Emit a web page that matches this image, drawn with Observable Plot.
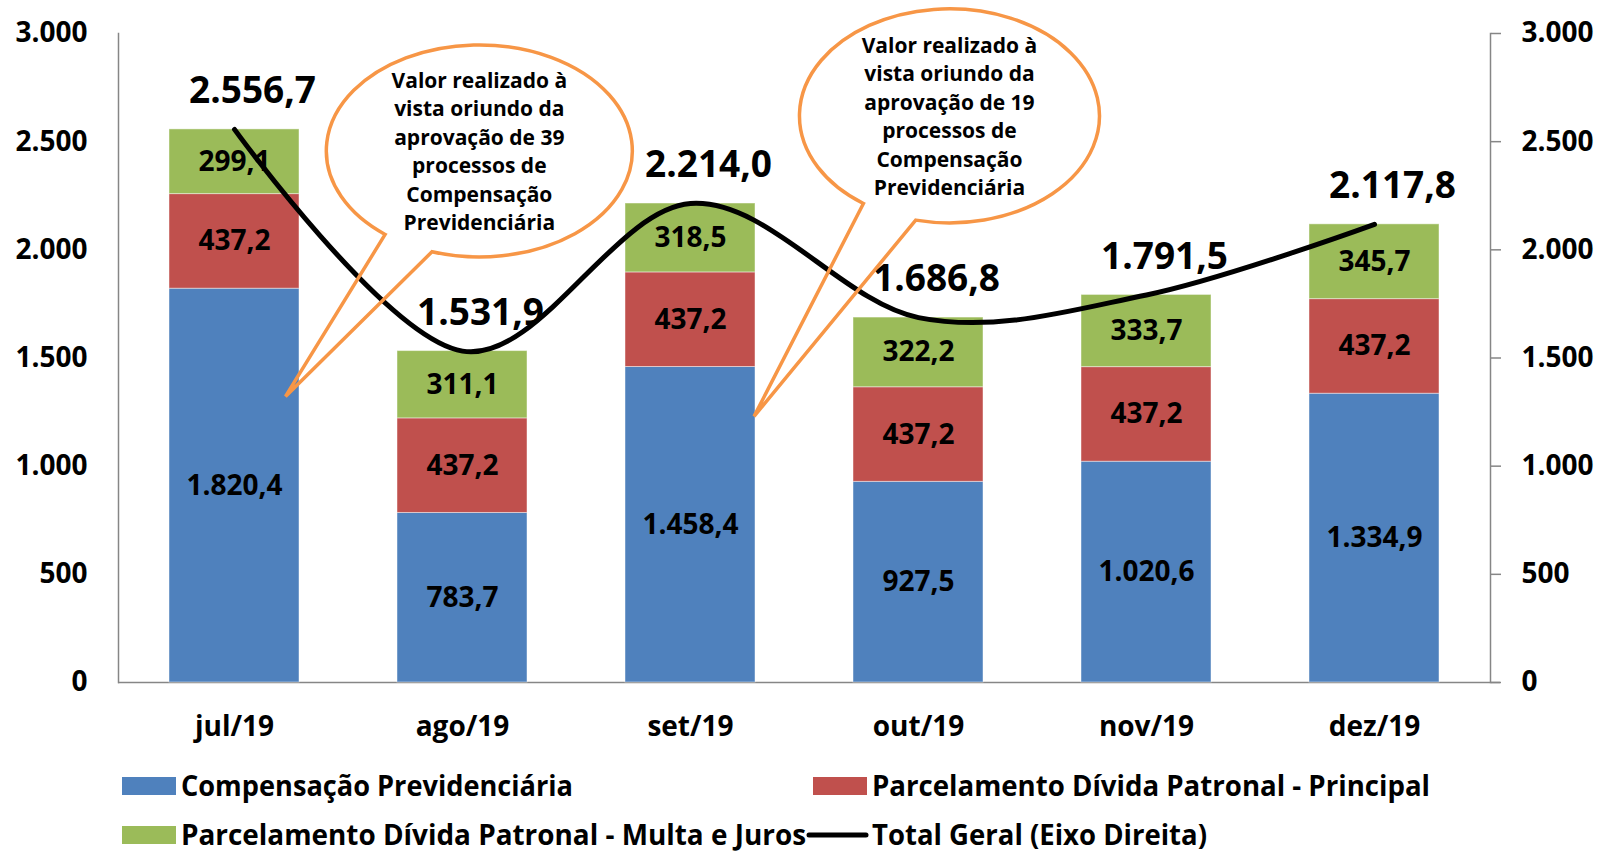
<!DOCTYPE html>
<html>
<head>
<meta charset="utf-8">
<script src="https://cdn.jsdelivr.net/npm/d3@7"></script>
<script src="https://cdn.jsdelivr.net/npm/@observablehq/plot@0.6"></script>
<style>
  html, body { margin: 0; padding: 0; background: #fff; }
  #chart { width: 1600px; }
  svg { display: block; }
  text { font-family: "Open Sans", sans-serif; }
</style>
</head>
<body>
<div id="chart"></div>
<script>
// ---- Data ----
const months = ["jul/19", "ago/19", "set/19", "out/19", "nov/19", "dez/19"];
const compensacao = [1820.4, 783.7, 1458.4, 927.5, 1020.6, 1334.9];
const principal = [437.2, 437.2, 437.2, 437.2, 437.2, 437.2];
const multaJuros = [299.1, 311.1, 318.5, 322.2, 333.7, 345.7];
const totalGeral = [2556.7, 1531.9, 2214.0, 1686.8, 1791.5, 2117.8];
const seriesNames = [
  "Compensação Previdenciária",
  "Parcelamento Dívida Patronal - Principal",
  "Parcelamento Dívida Patronal - Multa e Juros"
];
const seriesColors = ["#4F81BD", "#C0504D", "#9BBB59"];
const lineName = "Total Geral (Eixo Direita)";
const yTicks = [0, 500, 1000, 1500, 2000, 2500, 3000];
const calloutLines = [
  ["Valor realizado à", "vista oriundo da", "aprovação de 39", "processos de", "Compensação", "Previdenciária"],
  ["Valor realizado à", "vista oriundo da", "aprovação de 19", "processos de", "Compensação", "Previdenciária"]
];

// ---- Build tables ----
const seriesValues = [compensacao, principal, multaJuros];
const stacked = [];
months.forEach((m, i) => {
  seriesNames.forEach((s, j) => stacked.push({month: m, series: s, value: seriesValues[j][i]}));
});
const totals = months.map((m, i) => ({month: m, total: totalGeral[i]}));

const loc = d3.formatLocale({decimal: ",", thousands: ".", grouping: [3], currency: ["R$ ", ""]});
const f1 = loc.format(",.1f");
const f0 = loc.format(",.0f");

const axisGray = "#868686";

const plot = Plot.plot({
  width: 1600,
  height: 760,
  marginLeft: 118,
  marginRight: 110,
  marginTop: 33,
  marginBottom: 78,
  style: {fontFamily: "'Open Sans', sans-serif", color: "black", background: "white"},
  x: {domain: months, paddingInner: 0.43, paddingOuter: 0.215, label: null},
  y: {domain: [0, 3000], label: null},
  color: {domain: seriesNames, range: seriesColors},
  marks: [
    Plot.axisY({anchor: "left", ticks: yTicks, tickFormat: f0, tickSize: 0, tickPadding: 31,
      fontSize: 28, fontWeight: "bold", label: null}),
    Plot.axisY({anchor: "right", ticks: yTicks, tickFormat: f0, tickSize: 10, tickPadding: 21,
      stroke: axisGray, strokeWidth: 1.5, fill: "black", fontSize: 28, fontWeight: "bold", label: null}),
    Plot.axisX({tickSize: 0, tickPadding: 34, fontSize: 28, fontWeight: "bold", label: null}),
    Plot.frame({anchor: "left", stroke: axisGray, strokeWidth: 1.5}),
    Plot.frame({anchor: "right", stroke: axisGray, strokeWidth: 1.5}),
    Plot.ruleY([0], {stroke: axisGray, strokeWidth: 1.5, insetRight: -10}),
    Plot.barY(stacked, {x: "month", y: "value", fill: "series", order: seriesNames,
      stroke: "white", strokeWidth: 1, strokeOpacity: 0.45}),
    Plot.text(stacked, Plot.stackY({x: "month", y: "value", z: "series", order: seriesNames,
      text: d => f1(d.value), fontSize: 28, fontWeight: "bold", fill: "black"})),
    Plot.line(totals, {x: "month", y: "total", curve: "cardinal", stroke: "black", strokeWidth: 5}),
    Plot.text(totals, {x: "month", y: "total", text: d => f1(d.total), dy: -38, dx: 18,
      fontSize: 37, fontWeight: "bold", fill: "black"})
  ]
});

document.getElementById("chart").appendChild(plot);

// ---- Callouts (anchored to the chart scales) ----
const xs = plot.scale("x");
const ys = plot.scale("y");
const step = xs.step, bw = xs.bandwidth;
const xAt = idx => xs.apply(months[0]) + bw / 2 + idx * step;
const yAt = v => ys.apply(v);
const callouts = [
  {lines: calloutLines[0], cIdx: 1.076, cVal: 2455, rx: 153, ry: 106, tipIdx: 0.226, tipVal: 1320, t1: 128, t2: 108},
  {lines: calloutLines[1], cIdx: 3.138, cVal: 2617, rx: 150, ry: 107, tipIdx: 2.281, tipVal: 1228, t1: 125, t2: 103}
];
const svg = d3.select(plot);
callouts.forEach(c => {
  const cx = xAt(c.cIdx), cy = yAt(c.cVal);
  const pt = t => [cx + c.rx * Math.cos(t * Math.PI / 180), cy + c.ry * Math.sin(t * Math.PI / 180)];
  const b1 = pt(c.t1), b2 = pt(c.t2);
  const tip = [xAt(c.tipIdx), yAt(c.tipVal)];
  const d = `M${b1[0]},${b1[1]} L${tip[0]},${tip[1]} L${b2[0]},${b2[1]} A${c.rx},${c.ry} 0 1 0 ${b1[0]},${b1[1]} Z`;
  svg.append("path").attr("d", d).attr("fill", "none").attr("stroke", "#F79646")
    .attr("stroke-width", 3.5).attr("stroke-linejoin", "miter");
  const g = svg.append("g").attr("font-family", "'Open Sans', sans-serif")
    .attr("font-size", 21).attr("font-weight", "bold").attr("text-anchor", "middle").attr("fill", "black");
  c.lines.forEach((ln, i) => {
    g.append("text").attr("x", cx).attr("y", cy + (i - 2.5) * 28.5 + 8).text(ln);
  });
});

// ---- Legend ----
const leg = d3.select("#chart").append("svg").attr("width", 1600).attr("height", 94)
  .attr("font-family", "'Open Sans', sans-serif").attr("font-size", 28).attr("font-weight", "bold");
const legItems = [
  {name: seriesNames[0], color: seriesColors[0], x: 122, row: 0, w: 392},
  {name: seriesNames[1], color: seriesColors[1], x: 813, row: 0, w: 558},
  {name: seriesNames[2], color: seriesColors[2], x: 122, row: 1, w: 625},
];
legItems.forEach(it => {
  const top = 17 + it.row * 49;
  leg.append("rect").attr("x", it.x).attr("y", top).attr("width", 54).attr("height", 18).attr("fill", it.color);
  leg.append("text").attr("x", it.x + 59).attr("y", top + 19).attr("textLength", it.w)
    .attr("lengthAdjust", "spacingAndGlyphs").text(it.name);
});
leg.append("line").attr("x1", 809).attr("x2", 866).attr("y1", 75).attr("y2", 75)
  .attr("stroke", "black").attr("stroke-width", 5).attr("stroke-linecap", "round");
leg.append("text").attr("x", 872).attr("y", 85).attr("textLength", 335)
  .attr("lengthAdjust", "spacingAndGlyphs").text(lineName);
</script>
</body>
</html>
